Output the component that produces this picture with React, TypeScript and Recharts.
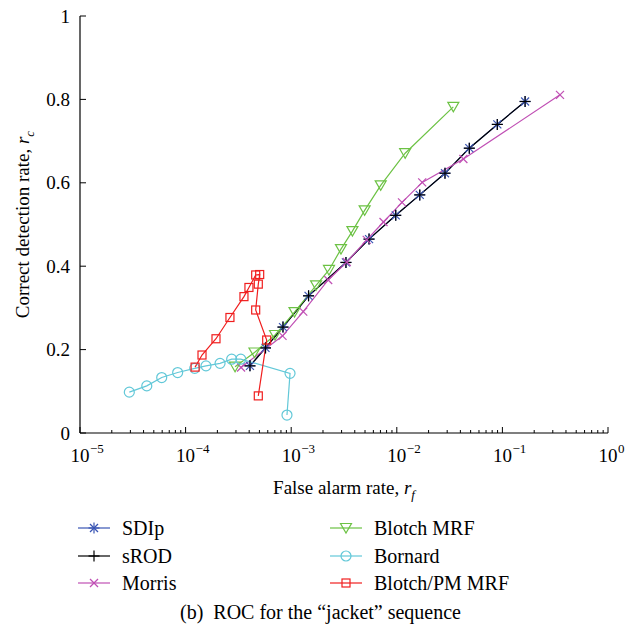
import React from 'react';
import { ComposedChart, Line, XAxis, YAxis, Legend } from 'recharts';

const FONT = '"Liberation Serif", "DejaVu Serif", serif';
const fstyle = (size: number, extra: any = {}) => ({ fontFamily: FONT, fontSize: size, ...extra });

// ---- data ----
const sdipX = [4.07e-4, 5.71e-4, 8.36e-4, 1.46e-3, 3.3e-3, 5.46e-3, 9.77e-3, 1.65e-2, 2.86e-2, 4.86e-2, 8.95e-2, 0.164];
const sdipY = [0.161, 0.204, 0.254, 0.329, 0.409, 0.465, 0.522, 0.571, 0.623, 0.683, 0.74, 0.795];
const srodX = [4.07e-4, 5.71e-4, 8.36e-4, 1.46e-3, 3.3e-3, 5.46e-3, 9.77e-3, 1.65e-2, 2.86e-2, 4.86e-2, 8.95e-2, 0.164];
const srodY = [0.161, 0.204, 0.254, 0.329, 0.409, 0.465, 0.522, 0.571, 0.623, 0.683, 0.74, 0.795];
const morrisX = [3.35e-4, 8.28e-4, 1.3e-3, 2.24e-3, 3.36e-3, 5.19e-3, 7.48e-3, 1.12e-2, 1.74e-2, 4.27e-2, 0.351];
const morrisY = [0.157, 0.233, 0.291, 0.367, 0.41, 0.463, 0.506, 0.553, 0.601, 0.657, 0.811];
const blotchX = [2.94e-4, 4.49e-4, 7.03e-4, 1.075e-3, 1.72e-3, 2.28e-3, 2.96e-3, 3.8e-3, 4.96e-3, 7.04e-3, 1.2e-2, 3.43e-2];
const blotchY = [0.159, 0.193, 0.235, 0.29, 0.354, 0.391, 0.441, 0.484, 0.534, 0.594, 0.671, 0.782];
const bornardX = [2.93e-5, 4.29e-5, 5.94e-5, 8.41e-5, 1.22e-4, 1.56e-4, 2.12e-4, 2.73e-4, 3.33e-4, 9.75e-4, 9.12e-4];
const bornardY = [0.098, 0.113, 0.133, 0.145, 0.155, 0.161, 0.167, 0.177, 0.177, 0.143, 0.043];
const pmX = [1.23e-4, 1.43e-4, 1.94e-4, 2.63e-4, 3.57e-4, 3.98e-4, 4.61e-4, 5.03e-4, 4.88e-4, 4.61e-4, 5.86e-4, 4.88e-4];
const pmY = [0.158, 0.187, 0.226, 0.277, 0.327, 0.349, 0.379, 0.38, 0.357, 0.295, 0.223, 0.089];

const decades = [1e-5, 1e-4, 1e-3, 1e-2, 1e-1, 1];
const minorMult = [2, 3, 4, 5, 6, 7, 8, 9];
const decadeExp = ['\u22125', '\u22124', '\u22123', '\u22122', '\u22121', '0'];
const yTicks = [0, 0.2, 0.4, 0.6, 0.8, 1];
const yTickLabels = ['0', '0.2', '0.4', '0.6', '0.8', '1'];

const seriesNames = ['SDIp', 'sROD', 'Morris', 'Blotch MRF', 'Bornard', 'Blotch/PM MRF'];

// ---- derived ----
const pts = (xs: number[], ys: number[]) => xs.map((x, i) => ({ x, y: ys[i] }));
const xTicks: number[] = [];
decades.forEach((d, i) => {
  xTicks.push(d);
  if (i < decades.length - 1) minorMult.forEach((m) => xTicks.push(m * d));
});
const majorIndex = (v: number) => decades.findIndex((d) => Math.abs(d - v) / d < 1e-6);

const COLORS: Record<string, string> = {
  SDIp: '#3a55b4',
  sROD: '#000000',
  Morris: '#c04fb4',
  'Blotch MRF': '#6cc244',
  Bornard: '#62c8d8',
  'Blotch/PM MRF': '#f01e1e',
};
const SHAPES: Record<string, string> = {
  SDIp: 'star',
  sROD: 'plus',
  Morris: 'cross',
  'Blotch MRF': 'tri',
  Bornard: 'circle',
  'Blotch/PM MRF': 'square',
};

const Marker = ({ shape, cx, cy, color }: { shape: string; cx: number; cy: number; color: string }) => {
  if (cx == null || cy == null || isNaN(cx) || isNaN(cy)) return null;
  const sw = 1.2;
  switch (shape) {
    case 'star': {
      const r = 5.5;
      const d = 4;
      return (
        <g stroke={color} strokeWidth={sw} fill="none">
          <line x1={cx - r} y1={cy} x2={cx + r} y2={cy} />
          <line x1={cx} y1={cy - r} x2={cx} y2={cy + r} />
          <line x1={cx - d} y1={cy - d} x2={cx + d} y2={cy + d} />
          <line x1={cx - d} y1={cy + d} x2={cx + d} y2={cy - d} />
        </g>
      );
    }
    case 'plus': {
      const r = 5.5;
      return (
        <g stroke={color} strokeWidth={sw} fill="none">
          <line x1={cx - r} y1={cy} x2={cx + r} y2={cy} />
          <line x1={cx} y1={cy - r} x2={cx} y2={cy + r} />
        </g>
      );
    }
    case 'cross': {
      const d = 4;
      return (
        <g stroke={color} strokeWidth={sw} fill="none">
          <line x1={cx - d} y1={cy - d} x2={cx + d} y2={cy + d} />
          <line x1={cx - d} y1={cy + d} x2={cx + d} y2={cy - d} />
        </g>
      );
    }
    case 'tri':
      return (
        <polygon
          points={`${cx - 5.5},${cy - 4.5} ${cx + 5.5},${cy - 4.5} ${cx},${cy + 5}`}
          stroke={color}
          strokeWidth={sw}
          fill="none"
        />
      );
    case 'circle':
      return <circle cx={cx} cy={cy} r={5} stroke={color} strokeWidth={sw} fill="none" />;
    case 'square':
      return <rect x={cx - 4} y={cy - 4} width={8} height={8} stroke={color} strokeWidth={sw} fill="none" />;
    default:
      return null;
  }
};

const makeDot = (name: string) => (p: any) => (
  <Marker key={`${name}-${p.index}`} shape={SHAPES[name]} cx={p.cx} cy={p.cy} color={COLORS[name]} />
);

// ---- ticks ----
const XTickBottom = (props: any) => {
  const { x, y, payload } = props;
  const mi = majorIndex(payload.value);
  const major = mi >= 0;
  return (
    <g>
      <line x1={x} x2={x} y1={y} y2={y - (major ? 6 : 3)} stroke="#000" strokeWidth={1} />
      {major && (
        <g fill="#000">
          <text x={x} y={y + 29} textAnchor="middle" style={fstyle(19)}>
            10
          </text>
          <text x={x + 10} y={y + 20} textAnchor="start" style={fstyle(13)}>
            {decadeExp[mi]}
          </text>
        </g>
      )}
    </g>
  );
};
const XTickTop = (props: any) => {
  const { x, y, payload } = props;
  const major = majorIndex(payload.value) >= 0;
  return <line x1={x} x2={x} y1={y} y2={y + (major ? 6 : 3)} stroke="#000" strokeWidth={1} />;
};
const YTickLeft = (props: any) => {
  const { x, y, payload, index } = props;
  const i = yTicks.indexOf(payload.value);
  return (
    <g>
      <line x1={x} x2={x + 6} y1={y} y2={y} stroke="#000" strokeWidth={1} />
      <text x={x - 10} y={y + 6.5} textAnchor="end" fill="#000" style={fstyle(19)}>
        {yTickLabels[i >= 0 ? i : index]}
      </text>
    </g>
  );
};
const YTickRight = (props: any) => {
  const { x, y } = props;
  return <line x1={x} x2={x - 6} y1={y} y2={y} stroke="#000" strokeWidth={1} />;
};

// ---- axis titles ----
const XTitle = (props: any) => {
  const vb = props.viewBox || { x: 80, y: 433, width: 528, height: 30 };
  const cx = vb.x + vb.width / 2;
  return (
    <text x={cx} y={vb.y + 61} textAnchor="middle" fill="#000" style={fstyle(19)}>
      False alarm rate,{' '}
      <tspan style={{ fontStyle: 'italic' }}>r</tspan>
      <tspan style={{ fontStyle: 'italic', fontSize: 13 }} dy={5}>
        f
      </tspan>
    </text>
  );
};
const YTitle = (props: any) => {
  const vb = props.viewBox || { x: 20, y: 16, width: 60, height: 417 };
  const tx = 29;
  const ty = vb.y + vb.height / 2;
  return (
    <text
      x={tx}
      y={ty}
      transform={`rotate(-90, ${tx}, ${ty})`}
      textAnchor="middle"
      fill="#000"
      style={fstyle(19)}
    >
      Correct detection rate,{' '}
      <tspan style={{ fontStyle: 'italic' }}>r</tspan>
      <tspan style={{ fontStyle: 'italic', fontSize: 13 }} dy={5}>
        c
      </tspan>
    </text>
  );
};

// ---- legend ----
const LEG_TOP = 512;
const legendRows = [16, 44, 71];
const legendCols = [
  { x1: 78, x2: 110, tx: 122 },
  { x1: 330, x2: 362, tx: 374 },
];
const renderLegend = () => {
  return (
    <svg width={641} height={90} style={{ display: 'block' }}>
      {seriesNames.map((name, i) => {
        const col = legendCols[Math.floor(i / 3)];
        const y = legendRows[i % 3];
        const color = COLORS[name];
        return (
          <g key={name}>
            <line x1={col.x1} x2={col.x2} y1={y} y2={y} stroke={color} strokeWidth={1.2} />
            <Marker shape={SHAPES[name]} cx={(col.x1 + col.x2) / 2} cy={y} color={color} />
            <text x={col.tx} y={y + 7} fill="#000" style={fstyle(20)}>
              {name}
            </text>
          </g>
        );
      })}
    </svg>
  );
};

const seriesData: Record<string, { x: number; y: number }[]> = {
  SDIp: pts(sdipX, sdipY),
  sROD: pts(srodX, srodY),
  Morris: pts(morrisX, morrisY),
  'Blotch MRF': pts(blotchX, blotchY),
  Bornard: pts(bornardX, bornardY),
  'Blotch/PM MRF': pts(pmX, pmY),
};

export default function App() {
  return (
    <div style={{ position: 'absolute', left: 0, top: 0, width: 641, height: 631, background: '#fff' }}>
      <ComposedChart
        width={641}
        height={631}
        margin={{ top: 16, right: 33, bottom: 168, left: 20 }}
        style={{ background: '#fff' }}
      >
        <XAxis
          xAxisId="bottom"
          dataKey="x"
          type="number"
          scale="log"
          domain={[1e-5, 1]}
          allowDataOverflow
          ticks={xTicks}
          interval={0}
          tick={<XTickBottom />}
          tickLine={false}
          tickSize={0}
          tickMargin={0}
          axisLine={{ stroke: '#000', strokeWidth: 1.2 }}
          height={30}
          orientation="bottom"
          label={<XTitle />}
        />
        <XAxis
          xAxisId="top"
          dataKey="x"
          type="number"
          scale="log"
          domain={[1e-5, 1]}
          allowDataOverflow
          ticks={xTicks}
          interval={0}
          tick={<XTickTop />}
          tickLine={false}
          tickSize={0}
          tickMargin={0}
          axisLine={{ stroke: '#000', strokeWidth: 1.2 }}
          height={0}
          orientation="top"
        />
        <YAxis
          yAxisId="left"
          type="number"
          domain={[0, 1]}
          ticks={yTicks}
          interval={0}
          tick={<YTickLeft />}
          tickLine={false}
          tickSize={0}
          tickMargin={0}
          axisLine={{ stroke: '#000', strokeWidth: 1.2 }}
          width={60}
          orientation="left"
          label={<YTitle />}
        />
        <YAxis
          yAxisId="right"
          type="number"
          domain={[0, 1]}
          ticks={yTicks}
          interval={0}
          tick={<YTickRight />}
          tickLine={false}
          tickSize={0}
          tickMargin={0}
          axisLine={{ stroke: '#000', strokeWidth: 1.2 }}
          width={0}
          orientation="right"
        />
        {seriesNames.map((name) => (
          <Line
            key={name}
            xAxisId="bottom"
            yAxisId="left"
            data={seriesData[name]}
            dataKey="y"
            name={name}
            type="linear"
            stroke={COLORS[name]}
            strokeWidth={1.2}
            dot={makeDot(name)}
            activeDot={false}
            isAnimationActive={false}
          />
        ))}
        <Legend
          layout="horizontal"
          verticalAlign="middle"
          align="center"
          content={renderLegend}
          wrapperStyle={{ position: 'absolute', left: 0, top: LEG_TOP, width: 641, height: 90 }}
        />
      </ComposedChart>
      <div
        style={{
          position: 'absolute',
          left: 0,
          top: 600,
          width: 641,
          textAlign: 'center',
          fontFamily: FONT,
          fontSize: 20,
          lineHeight: '24px',
          color: '#000',
        }}
      >
        (b)&nbsp;&nbsp;ROC for the “jacket” sequence
      </div>
    </div>
  );
}
